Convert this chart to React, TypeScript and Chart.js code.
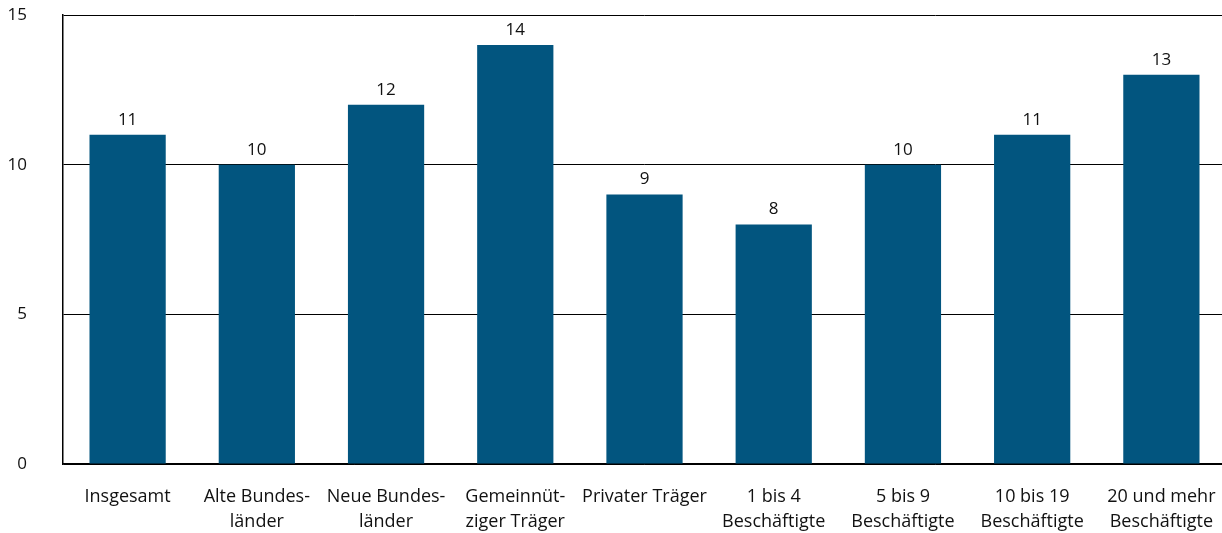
import React, { useEffect, useRef } from "react";
import { Chart, registerables } from "chart.js";

Chart.register(...registerables);

const categories: (string | string[])[] = [
  "Insgesamt",
  ["Alte Bundes-", "länder"],
  ["Neue Bundes-", "länder"],
  ["Gemeinnüt-", "ziger Träger"],
  "Privater Träger",
  ["1 bis 4", "Beschäftigte"],
  ["5 bis 9", "Beschäftigte"],
  ["10 bis 19", "Beschäftigte"],
  ["20 und mehr", "Beschäftigte"],
];
const values = [11, 10, 12, 14, 9, 8, 10, 11, 13];
const yTicks = [0, 5, 10, 15];

const FONT = "'Open Sans', 'Noto Sans', sans-serif";
const BAR = "#02557f";

const valueLabels = {
  id: "valueLabels",
  afterDatasetsDraw(chart: any) {
    const ctx = chart.ctx;
    const meta = chart.getDatasetMeta(0);
    ctx.save();
    ctx.font = `17px ${FONT}`;
    ctx.fillStyle = "#111";
    ctx.textAlign = "center";
    ctx.textBaseline = "middle";
    meta.data.forEach((el: any, i: number) => {
      ctx.fillText(String(values[i]), el.x, el.y - 15);
    });
    ctx.restore();
  },
};

export default function App() {
  const ref = useRef<HTMLCanvasElement>(null);
  useEffect(() => {
    if (!ref.current) return;
    const chart = new Chart(ref.current, {
      type: "bar",
      data: {
        labels: categories,
        datasets: [
          {
            data: values,
            backgroundColor: BAR,
            barPercentage: 0.59,
            categoryPercentage: 1,
          },
        ],
      },
      options: {
        animation: false,
        responsive: false,
        maintainAspectRatio: false,
        layout: { padding: 0 },
        plugins: { legend: { display: false }, tooltip: { enabled: false } },
        scales: {
          x: {
            afterFit: (s: any) => {
              s.height = 69;
              s.paddingTop = 0;
              s.paddingLeft = 0;
              s.paddingRight = 0;
            },
            grid: { display: false },
            border: { display: true, color: "#000", width: 1.5 },
            ticks: {
              color: "#111",
              font: { family: FONT, size: 18, lineHeight: "25px" },
              padding: 12,
              maxRotation: 0,
              autoSkip: false,
            },
          },
          y: {
            min: 0,
            max: 15,
            afterFit: (s: any) => {
              s.width = 63;
              s.paddingTop = 15;
              s.paddingBottom = 0;
            },
            afterBuildTicks: (s: any) => {
              s.ticks = yTicks.map((v) => ({ value: v }));
            },
            grid: {
              color: "#000",
              lineWidth: 1,
              drawTicks: false,
            },
            border: { display: true, color: "#000", width: 1.5 },
            ticks: {
              color: "#111",
              font: { family: FONT, size: 17 },
              padding: 36,
            },
          },
        },
      },
      plugins: [valueLabels],
    });
    return () => chart.destroy();
  }, []);
  return (
    <div
      style={{
        position: "absolute",
        left: 0,
        top: 0,
        width: 1222,
        height: 533,
        overflow: "hidden",
      }}
    >
      <canvas ref={ref} width={1226} height={533} style={{ display: "block" }} />
    </div>
  );
}
